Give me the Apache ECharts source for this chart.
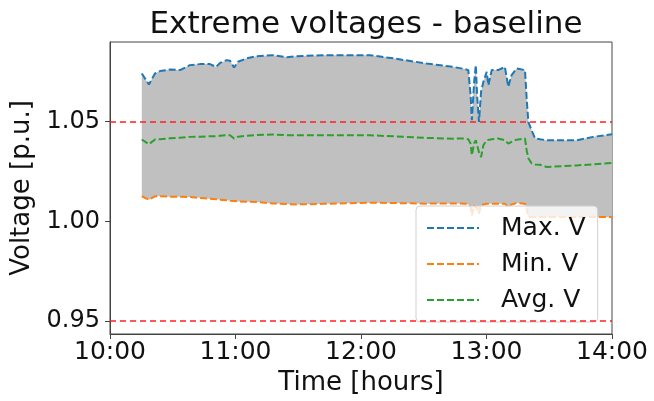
<!DOCTYPE html>
<html>
<head>
<meta charset="utf-8">
<script src="https://cdn.jsdelivr.net/npm/echarts@6/dist/echarts.min.js"></script>
<style>html,body{margin:0;padding:0;background:#fff}#c{width:654px;height:401px}</style>
</head>
<body>
<div id="c"></div>
<script>
// minutes after 10:00
const minutes = [15.2,18.6,21.5,23.9,28.7,33.5,38.2,43.0,47.8,50.7,52.6,55.8,57.4,59.3,61.2,65.4,70.1,77.9,84.5,89.3,101.8,124.3,135.3,151.4,164.0,169.8,171.3,172.4,173.0,174.1,174.9,175.5,176.4,177.4,178.5,180.1,180.9,182.5,185.5,188.8,190.4,192.0,194.4,198.4,199.2,200.0,201.6,203.2,205.6,208.8,223.1,230.9,240.0];
const maxV = [1.0742,1.0687,1.0742,1.0754,1.0762,1.0759,1.0784,1.0789,1.0789,1.0775,1.0795,1.0809,1.0806,1.0772,1.0801,1.0818,1.0829,1.0834,1.0823,1.0829,1.0834,1.0834,1.0818,1.0792,1.0775,1.0764,1.0759,1.0633,1.0508,1.0700,1.0784,1.0633,1.0499,1.0650,1.0700,1.0750,1.0683,1.0759,1.0759,1.0775,1.0675,1.0734,1.0767,1.0759,1.0618,1.0499,1.0457,1.0417,1.0412,1.0407,1.0407,1.0424,1.0437];
const avgV = [1.0411,1.0387,1.0411,1.0412,1.0417,1.0420,1.0424,1.0425,1.0427,1.0427,1.0430,1.0432,1.0432,1.0416,1.0425,1.0430,1.0433,1.0436,1.0432,1.0432,1.0432,1.0432,1.0427,1.0419,1.0415,1.0416,1.0412,1.0390,1.0332,1.0392,1.0407,1.0402,1.0347,1.0323,1.0382,1.0407,1.0407,1.0412,1.0416,1.0407,1.0390,1.0399,1.0410,1.0416,1.0357,1.0317,1.0290,1.0286,1.0284,1.0273,1.0281,1.0286,1.0293];
const minV = [1.0126,1.0109,1.0126,1.0126,1.0124,1.0123,1.0122,1.0118,1.0113,1.0111,1.0109,1.0106,1.0104,1.0102,1.0100,1.0099,1.0097,1.0090,1.0087,1.0085,1.0088,1.0094,1.0092,1.0089,1.0090,1.0089,1.0085,1.0072,1.0030,1.0080,1.0080,1.0065,1.0039,1.0080,1.0085,1.0088,1.0089,1.0089,1.0089,1.0089,1.0072,1.0085,1.0092,1.0089,1.0064,1.0022,1.0022,1.0022,1.0022,1.0022,1.0022,1.0022,1.0022];
const yTicks = [0.95, 1.00, 1.05];
const limits = [1.05, 0.95];

const hrs = minutes.map(m => 10 + m / 60);
const pair = arr => arr.map((v, i) => [hrs[i], v]);

const font = 'DejaVu Sans';
const chart = echarts.init(document.getElementById('c'), null, {renderer: 'canvas'});
const dash = [7, 3];
chart.setOption({
  animation: false,
  textStyle: {fontFamily: font},
  title: {
    text: 'Extreme voltages - baseline', left: 361, top: 4, textAlign: 'center',
    textStyle: {fontFamily: font, fontSize: 31, fontWeight: 'normal', color: '#111'}
  },
  grid: {left: 110, right: 42, top: 42, bottom: 67, show: true, borderColor: '#444', borderWidth: 1},
  legend: {
    orient: 'vertical', left: 416, top: 206,
    data: ['Max. V', 'Min. V', 'Avg. V'],
    itemWidth: 52, itemHeight: 14, itemGap: 8,
    padding: [8, 12, 8, 10],
    itemStyle: {opacity: 0},
    backgroundColor: 'rgba(255,255,255,0.8)', borderColor: '#d0d0d0', borderWidth: 1, borderRadius: 4,
    textStyle: {fontFamily: font, fontSize: 25, color: '#111', lineHeight: 28, padding: [0, 0, 0, 17]}
  },
  xAxis: {
    type: 'value', min: 10, max: 14, interval: 1,
    name: 'Time [hours]', nameLocation: 'middle', nameGap: 34,
    nameTextStyle: {fontFamily: font, fontSize: 26, color: '#111'},
    axisLine: {show: true, lineStyle: {color: '#444'}},
    axisTick: {show: true, length: 5, lineStyle: {color: '#444'}},
    axisLabel: {fontFamily: font, fontSize: 25, color: '#111', margin: 6, formatter: v => v + ':00'},
    splitLine: {show: false}
  },
  yAxis: {
    type: 'value', min: 0.9435, max: 1.09,
    name: 'Voltage [p.u.]', nameLocation: 'middle', nameGap: 72,
    nameTextStyle: {fontFamily: font, fontSize: 26, color: '#111'},
    axisLine: {show: true, lineStyle: {color: '#444'}},
    axisTick: {show: true, length: 5, lineStyle: {color: '#444'}, customValues: yTicks},
    axisLabel: {fontFamily: font, fontSize: 24, color: '#111', margin: 10, customValues: yTicks, formatter: v => v.toFixed(2)},
    splitLine: {show: false}
  },
  series: [
    {type: 'custom', silent: true, z: 1, data: [[hrs[0], minV[0]]],
     renderItem: (params, api) => {
       const top = hrs.map((h, i) => api.coord([h, maxV[i]]));
       const bot = hrs.map((h, i) => api.coord([h, minV[i]])).reverse();
       return {type: 'polygon', shape: {points: top.concat(bot)}, style: {fill: '#c0c0c0'}};
     }},
    {name: 'Max. V', type: 'line', data: pair(maxV), symbol: 'none', color: '#1f77b4',
     lineStyle: {color: '#1f77b4', width: 2, type: dash}, z: 3},
    {name: 'Min. V', type: 'line', data: pair(minV), symbol: 'none', color: '#ff7f0e',
     lineStyle: {color: '#ff7f0e', width: 2, type: dash}, z: 3},
    {name: 'Avg. V', type: 'line', data: pair(avgV), symbol: 'none', color: '#2ca02c',
     lineStyle: {color: '#2ca02c', width: 2, type: dash}, z: 3,
     markLine: {silent: true, symbol: 'none', label: {show: false},
       lineStyle: {color: '#ff2020', width: 1.5, type: [6, 4]},
       data: limits.map(v => ({yAxis: v}))}}
  ]
});
</script>
</body>
</html>
